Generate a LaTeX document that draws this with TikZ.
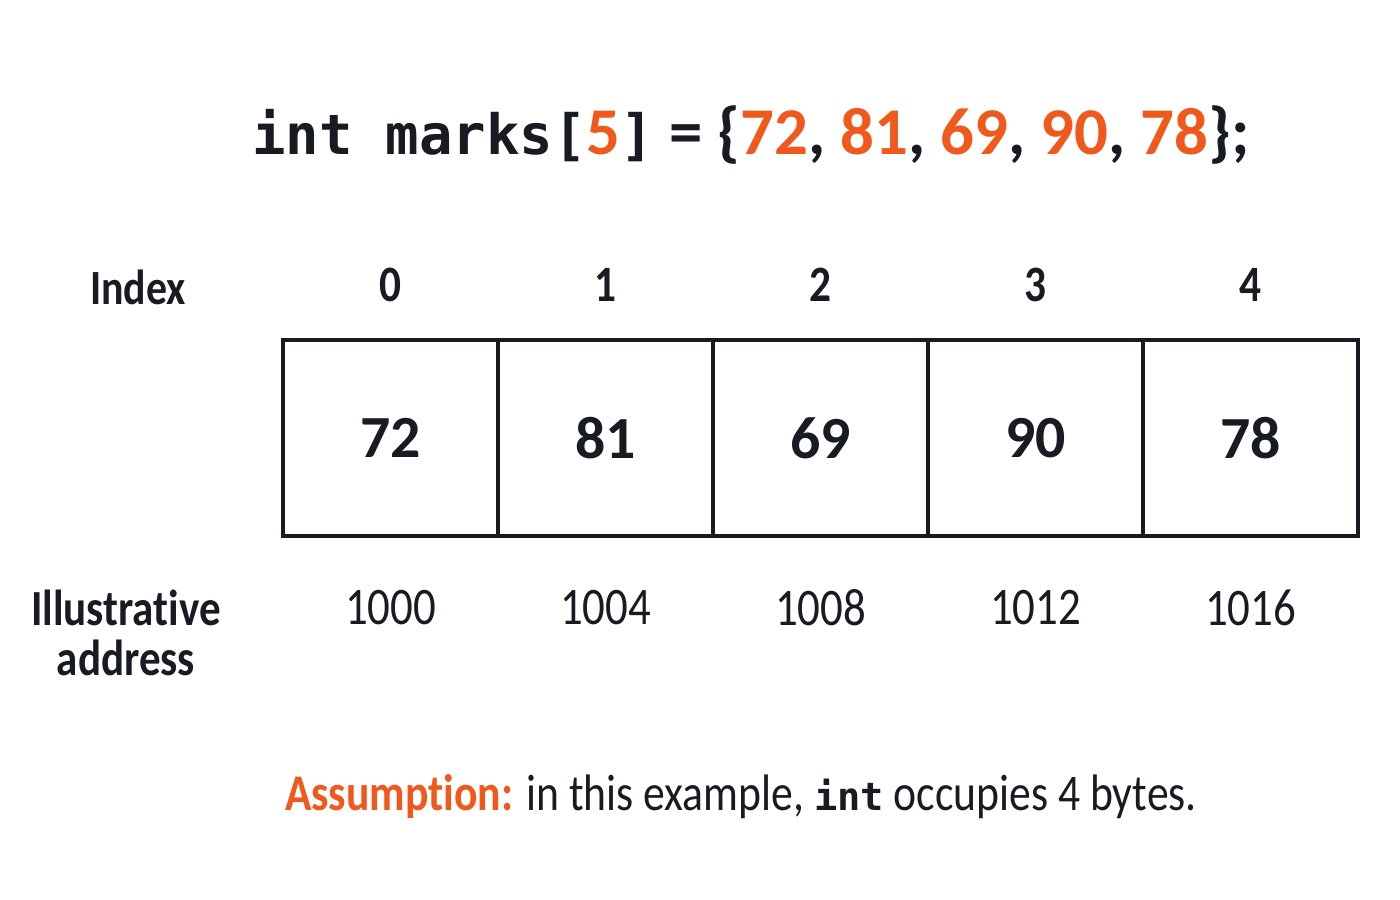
\documentclass[tikz,border=0pt]{standalone}
\usepackage{fontspec}
\setmainfont{Carlito}[FakeStretch=0.85, Ligatures=NoCommon]
\newfontfamily\declfont{Carlito}[Ligatures=NoCommon]
\setmonofont{DejaVu Sans Mono}
\definecolor{ink}{RGB}{24,27,34}
\definecolor{accent}{RGB}{240,88,28}
\newcommand{\hl}[1]{\textcolor{accent}{#1}}
\tikzset{
  cellbox/.style={draw=ink, line width=0.9pt, minimum width=2.15cm, minimum height=1.96cm, inner sep=0pt, font=\fontsize{17}{20}\selectfont\bfseries\declfont},
  idxtext/.style={font=\fontsize{14.5}{17}\selectfont\bfseries},
  addrtext/.style={font=\fontsize{15}{18}\selectfont}
}
\begin{document}
\begin{tikzpicture}[x=0.01cm,y=-0.01cm,text=ink]
  \useasboundingbox[fill=white] (0,0) rectangle (1400,900);
  \node[font=\fontsize{19}{22}\selectfont\bfseries\declfont] (decl) at (751,135)
    {{\fontsize{15.8}{18}\selectfont\texttt{int marks[}}\hl{5}{\fontsize{15.8}{18}\selectfont\texttt{]}}~=~\{\hl{72}, \hl{81}, \hl{69}, \hl{90}, \hl{78}\};};
  \node[idxtext, font=\fontsize{14}{17}\selectfont\bfseries] (idxlabel) at (138,287) {Index};
  \node[align=center, font=\fontsize{14.4}{14.2}\selectfont\bfseries] (addrlabel) at (126,633) {Illustrative\\address};
  \foreach \val/\addr [count=\i from 0] in {72/1000,81/1004,69/1008,90/1012,78/1016}
  {
    \pgfmathsetmacro\xc{390.5+215*\i}
    \node[cellbox] (cell\i) at (\xc,438) {\val};
    \node[idxtext] (idx\i) at (\xc,285) {\i};
    \node[addrtext] (addr\i) at (\xc,608) {\addr};
  }
  \node[font=\fontsize{14.6}{17}\selectfont] (note) at (741,797)
    {\hl{\bfseries Assumption:} in this example, {\fontsize{11}{12}\selectfont\texttt{\bfseries int}} occupies 4 bytes.};
\end{tikzpicture}
\end{document}
